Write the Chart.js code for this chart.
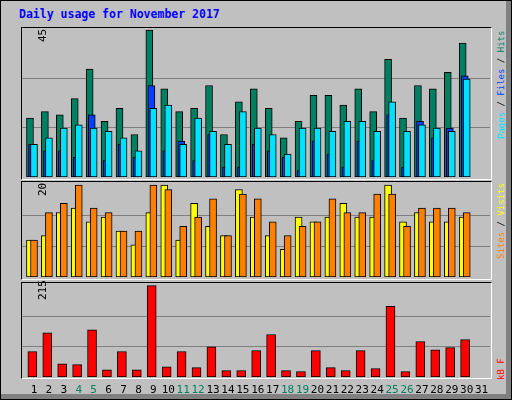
<!DOCTYPE html>
<html><head><meta charset="utf-8">
<script src="https://cdn.jsdelivr.net/npm/chart.js@4"></script>
<style>
body{margin:0;background:#fff}
#f{position:absolute;left:0;top:0;width:510px;height:398px;background:#c0c0c0;border:1px solid #000;overflow:hidden;font-family:"DejaVu Sans Mono",monospace}
#f:before{content:"";position:absolute;right:0;top:0;width:5px;height:398px;background:#808080}
#f:after{content:"";position:absolute;left:0;bottom:0;width:510px;height:5px;background:#808080}
.p{position:absolute;border-top:1px solid #000;border-left:1px solid #000;border-right:1px solid #fff;border-bottom:1px solid #fff}
canvas{position:absolute}
.t{position:absolute;font-size:11px;line-height:12px;white-space:nowrap;transform-origin:0 0;transform:rotate(-90deg)}
.r{font-size:9px;line-height:10px}
.x{position:absolute;top:382px;font-size:11px;width:20px;text-align:center}
</style></head><body>
<div id="f">
<div style="position:absolute;left:18px;top:6px;color:#0000ff;font-weight:bold;font-size:11.5px">Daily usage for November 2017</div>
<div class="p" style="left:20px;top:26px;width:469px;height:151px"></div>
<div class="p" style="left:20px;top:180px;width:469px;height:97px"></div>
<div class="p" style="left:20px;top:281px;width:469px;height:95px"></div>
<canvas id="c1" width="468" height="149" style="left:21px;top:27px"></canvas>
<canvas id="c2" width="468" height="95" style="left:21px;top:181px"></canvas>
<canvas id="c3" width="468" height="94" style="left:21px;top:282px"></canvas>
<div class="t" style="left:36px;top:41px">45</div>
<div class="t" style="left:36px;top:195px">20</div>
<div class="t" style="left:36px;top:299px">215</div>
<div class="t r" style="left:495px;top:138px"><span style="color:#00e0ff">Pages</span> / <span style="color:#0040ff">Files</span> / <span style="color:#008060">Hits</span></div>
<div class="t r" style="left:495px;top:258px"><span style="color:#ff8000">Sites</span> / <span style="color:#ffff00">Visits</span></div>
<div class="t r" style="left:495px;top:379px;color:#ff0000">kB F</div>
<div id="xl"></div>
</div>
<script>
const days=[1,2,3,4,5,6,7,8,9,10,11,12,13,14,15,16,17,18,19,20,21,22,23,24,25,26,27,28,29,30,31];
const weekend=[4,5,11,12,18,19,25,26];
const hits=[18,20,19,24,33,17,21,13,45,27,20,21,28,13,23,27,21,12,17,25,25,22,27,20,36,18,28,27,32,41];
const files=[10,8,8,6,19,5,10,6,28,8,11,5,13,3,3,10,8,6,2,11,7,3,11,5,19,3,17,12,15,31];
const pages=[10,12,15,16,15,14,12,8,21,22,10,18,14,10,20,15,13,7,15,15,14,17,17,14,23,14,16,15,14,30];
const visits=[8,9,14,15,12,13,10,7,14,20,8,16,11,9,19,13,9,6,13,12,13,16,13,13,20,12,14,12,12,13];
const sites=[8,14,16,20,15,14,10,10,20,19,11,13,17,9,18,17,12,9,11,12,17,14,14,18,18,11,15,15,15,14];
const kbytes=[60,104,31,29,111,17,60,17,215,24,60,22,71,15,15,62,100,15,13,62,22,15,62,20,166,13,83,64,69,88];
const maxTop=45,maxMid=20,maxKB=215;

const xl=document.getElementById('xl');
days.forEach(d=>{const e=document.createElement('div');e.className='x';e.textContent=d;
 e.style.left=(33+14.92*(d-1)-10)+'px';e.style.color=weekend.includes(d)?'#008060':'#000';xl.appendChild(e);});

function ds(vals,off,color,order,w){return{data:vals.map((v,i)=>({x:days[i]+off,y:v})),backgroundColor:color,borderColor:'#000',borderWidth:1,barThickness:w,order:order,borderSkipped:false};}
function mk(id,sets,ymax,lab){
 new Chart(document.getElementById(id),{type:'bar',data:{datasets:sets},
 options:{responsive:false,animation:false,devicePixelRatio:1,layout:{padding:0},
  plugins:{legend:{display:false},tooltip:{enabled:false}},
  datasets:{bar:{grouped:false}},
  scales:{x:{type:'linear',offset:false,min:0.196,max:31.56,display:false},
   y:{min:0,max:ymax,border:{display:false},ticks:{display:false},
      grid:{color:'#808080',drawTicks:false,lineWidth:1},
      afterBuildTicks:a=>{a.ticks=[{value:lab/3},{value:2*lab/3}];}}}}});
}
mk('c1',[ds(hits,-0.27,'#008060',3,7),ds(files,-0.13,'#0040ff',2,7),ds(pages,0,'#00e0ff',1,7)],45.6,maxTop);
mk('c2',[ds(visits,-0.27,'#ffff00',2,7),ds(sites,0,'#ff8000',1,7)],20.65,maxMid);
mk('c3',[ds(kbytes,-0.11,'#ff0000',1,9)],221,maxKB);
</script>
</body></html>
